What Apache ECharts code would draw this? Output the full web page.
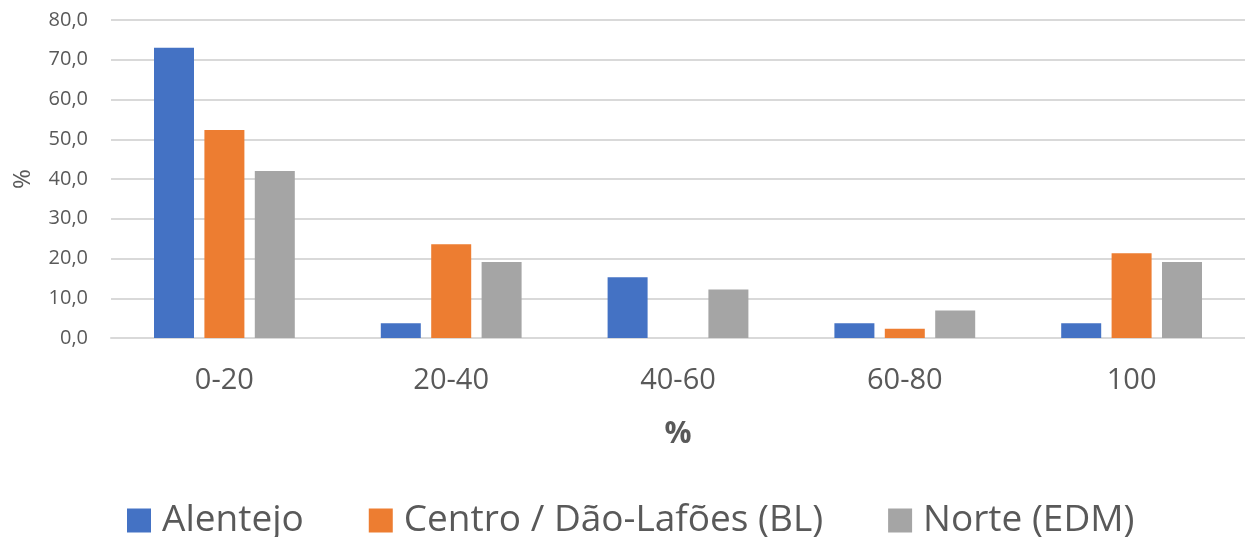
<!DOCTYPE html>
<html>
<head>
<meta charset="utf-8">
<script src="https://cdn.jsdelivr.net/npm/echarts@6/dist/echarts.min.js"></script>
<style>
  html, body { margin: 0; padding: 0; background: #ffffff; }
  #chart { width: 1245px; height: 537px; }
</style>
</head>
<body>
<div id="chart"></div>
<script>
// Share of holdings by class (%), per region
const categories = ['0-20', '20-40', '40-60', '60-80', '100'];
const alentejo = [73.0, 3.7, 15.3, 3.7, 3.7];
const centro = [52.3, 23.6, 0, 2.3, 21.3];
const norte = [42.0, 19.1, 12.2, 6.9, 19.1];
const seriesNames = ['Alentejo', 'Centro / Dão-Lafões (BL)', 'Norte (EDM)'];
const seriesColors = ['#4472C4', '#ED7D31', '#A5A5A5'];

const FONT = '"Open Sans", "Liberation Sans", sans-serif';
const TEXT = '#595959';

const chart = echarts.init(document.getElementById('chart'), null, { renderer: 'canvas' });

const makeBar = (name, data, color) => ({
  name: name,
  type: 'bar',
  data: data,
  barWidth: 40,
  barGap: '26%',
  itemStyle: { color: color },
  emphasis: { disabled: true }
});

chart.setOption({
  animation: false,
  textStyle: { fontFamily: FONT },
  grid: { left: 111, top: 20, width: 1142, height: 318, containLabel: false },
  legend: {
    left: 122,
    bottom: -7,
    itemWidth: 24,
    itemHeight: 24,
    itemGap: 65,
    icon: 'rect',
    textStyle: { fontFamily: FONT, fontSize: 37, color: TEXT, padding: [0, 0, 0, 6] },
    data: seriesNames
  },
  xAxis: {
    type: 'category',
    data: categories,
    name: '%',
    nameLocation: 'middle',
    nameGap: 81,
    nameTextStyle: { fontFamily: FONT, fontSize: 30, fontWeight: 'bold', color: TEXT },
    axisLine: { show: true, lineStyle: { color: '#D9D9D9', width: 2 } },
    axisTick: { show: false },
    axisLabel: { fontFamily: FONT, fontSize: 29, color: TEXT, margin: 28 }
  },
  yAxis: {
    type: 'value',
    min: 0,
    max: 80,
    interval: 10,
    name: '%',
    nameLocation: 'middle',
    nameGap: 76,
    nameRotate: 90,
    nameTextStyle: { fontFamily: FONT, fontSize: 24, color: TEXT },
    axisLine: { show: false },
    axisTick: { show: false },
    splitLine: { lineStyle: { color: '#D9D9D9', width: 2 } },
    axisLabel: {
      fontFamily: FONT,
      fontSize: 20,
      color: TEXT,
      margin: 23,
      formatter: v => v.toFixed(1).replace('.', ',')
    }
  },
  series: [
    makeBar(seriesNames[0], alentejo, seriesColors[0]),
    makeBar(seriesNames[1], centro, seriesColors[1]),
    makeBar(seriesNames[2], norte, seriesColors[2])
  ]
});
</script>
</body>
</html>
